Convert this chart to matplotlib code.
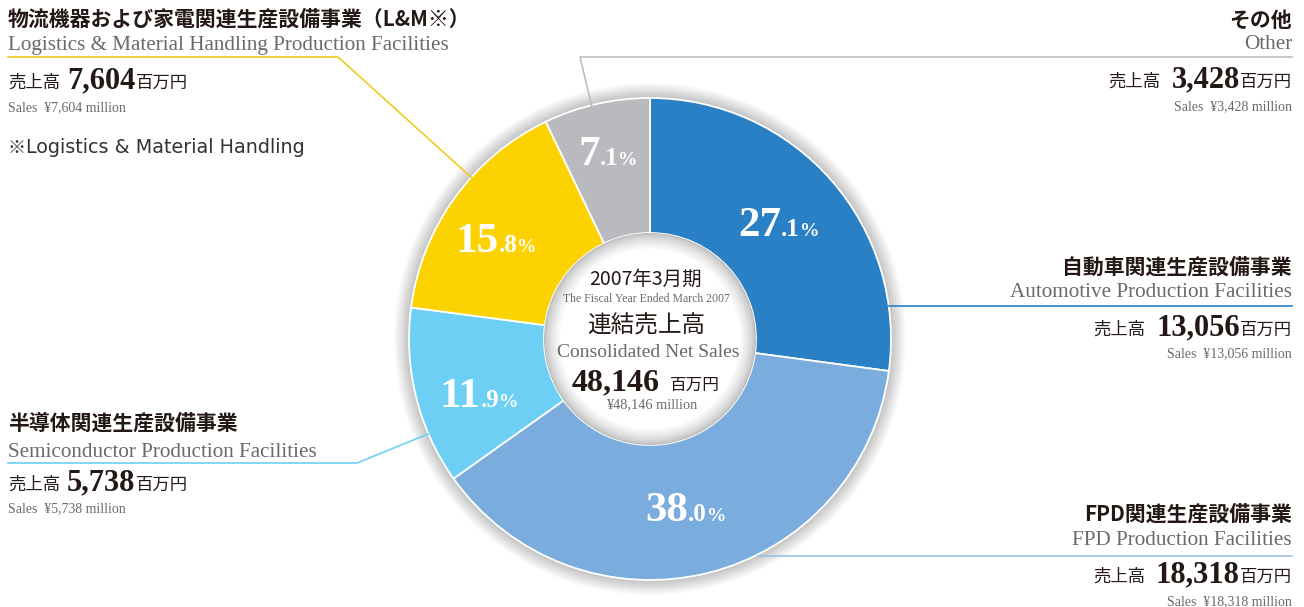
import matplotlib
matplotlib.use("Agg")
import matplotlib.pyplot as plt
from matplotlib.patches import Circle

# ---- data ----
segments_ja = ["自動車関連生産設備事業", "FPD関連生産設備事業", "半導体関連生産設備事業",
               "物流機器および家電関連生産設備事業（L&M※）", "その他"]
segments_en = ["Automotive Production Facilities", "FPD Production Facilities",
               "Semiconductor Production Facilities",
               "Logistics & Material Handling Production Facilities", "Other"]
sales = [13056, 18318, 5738, 7604, 3428]          # 百万円
shares = ["27.1", "38.0", "11.9", "15.8", "7.1"]  # %
total_sales = 48146
colors = ["#2a80c5", "#7aadde", "#6dcff3", "#fcd200", "#b9babd"]
line_colors = ["#2a80c5", "#9cc1e4", "#6dcff3", "#f0cb1e", "#bdbdbd"]

W, H = 1304, 607
CX, CY = 650, 339
R_OUT, R_IN = 241, 106

JA = ["Noto Sans CJK JP", "DejaVu Sans"]
SERIF = ["Liberation Serif", "DejaVu Serif"]
DARK = "#231815"
GRAY = "#6a6a6a"

fig = plt.figure(figsize=(W / 100, H / 100), dpi=100)
ax = fig.add_axes([0, 0, 1, 1])
renderer = fig.canvas.get_renderer()


def Y(y):
    return H - y


def put(x, y, parts, ha="left"):
    """parts: (text, kwargs) tuples or numbers as gaps; y = baseline (pixels from top)"""
    widths = []
    for p in parts:
        if isinstance(p, (int, float)):
            widths.append(p)
            continue
        t = ax.text(0, 0, p[0], **p[1])
        widths.append(t.get_window_extent(renderer).width)
        t.remove()
    tot = sum(widths)
    x0 = x - tot if ha == "right" else (x - tot / 2 if ha == "center" else x)
    for p, w in zip(parts, widths):
        if not isinstance(p, (int, float)):
            ax.text(x0, Y(y), p[0], ha="left", va="baseline", **p[1])
        x0 += w


# shadow around donut
for k in range(15, 0, -1):
    ax.add_patch(Circle((CX, Y(CY)), R_OUT + k, color="black", alpha=0.016, lw=0, zorder=1))

ax.pie(sales, radius=R_OUT, center=(CX, Y(CY)), startangle=90, counterclock=False,
       colors=colors, wedgeprops=dict(width=R_OUT - R_IN, edgecolor="white", linewidth=1.3),
       frame=True)

# centre disc with soft rim
rim = 16
for k in range(rim + 1):
    g = 0.74 + 0.26 * (k / rim) ** 0.7
    ax.add_patch(Circle((CX, Y(CY)), R_IN - k, color=(g, g, g), lw=0, zorder=3))

# percentage labels
pct_pos = [(779, 236), (686, 521), (479, 407), (496, 252), (608, 165)]
for s, (px, py) in zip(shares, pct_pos):
    a, b = s.split(".")
    put(px, py, [(a, dict(family=SERIF, weight="bold", size=31, color="white", zorder=5)),
                 ("." + b, dict(family=SERIF, weight="bold", size=18, color="white", zorder=5)),
                 ("%", dict(family=SERIF, weight="bold", size=14, color="white", zorder=5))],
        ha="center")

# leader lines (pixel positions from top)
leaders = [
    [(888, 306), (1292, 306)],
    [(758, 556), (1292, 556)],
    [(428, 434), (357, 463), (8, 463)],
    [(472, 178), (338, 57), (8, 57)],
    [(592, 107), (580, 57), (1292, 57)],
]
for pts, c in zip(leaders, line_colors):
    ax.plot([p[0] for p in pts], [Y(p[1]) for p in pts], color=c, lw=1.2, zorder=2)


def block(i, x, ys, ha):
    yt, ye, ys_, yl = ys
    put(x, yt, [(segments_ja[i], dict(family=JA, weight="bold", size=15, color=DARK))], ha=ha)
    put(x, ye, [(segments_en[i], dict(family=SERIF, size=15.2, color=GRAY))], ha=ha)
    put(x, ys_, [("売上高", dict(family=JA, size=12.5, color=DARK)), 7 if ha == "left" else 11,
                 (f"{sales[i]:,}", dict(family=SERIF, weight="bold", size=22, color=DARK)),
                 ("百万円", dict(family=JA, size=12.5, color=DARK))], ha=ha)
    put(x, yl, [(f"Sales  ¥{sales[i]:,} million", dict(family=SERIF, size=10, color=GRAY))], ha=ha)


block(3, 8, (26, 50, 88, 111), "left")
block(4, 1292, (27, 49, 87, 110), "right")
block(0, 1292, (274, 297, 335, 357), "right")
block(2, 8, (430, 457, 490, 512), "left")
block(1, 1292, (521, 545, 582, 605), "right")

put(8, 153, [("※", dict(family=JA, size=13, color="#333333")),
             ("Logistics & Material Handling", dict(family=["DejaVu Sans"], size=13.8, color="#333333"))])

# centre text
MX = 646
put(MX, 285, [("2007年3月期", dict(family=JA, size=14, color=DARK, zorder=6))], ha="center")
put(MX, 302, [("The Fiscal Year Ended March 2007", dict(family=SERIF, size=8.5, color=GRAY, zorder=6))], ha="center")
put(MX, 333, [("連結売上高", dict(family=JA, size=17, color=DARK, zorder=6))], ha="center")
put(MX + 2, 357, [("Consolidated Net Sales", dict(family=SERIF, size=14, color=GRAY, zorder=6))], ha="center")
put(MX, 390, [(f"{total_sales:,}", dict(family=SERIF, weight="bold", size=23, color=DARK, zorder=6)), 10,
              ("百万円", dict(family=JA, size=12, color=DARK, zorder=6))], ha="center")
put(MX + 6, 408, [(f"¥{total_sales:,} million", dict(family=SERIF, size=10.4, color=GRAY, zorder=6))], ha="center")

ax.set_xlim(0, W)
ax.set_ylim(0, H)
ax.set_aspect("auto")
ax.axis("off")
fig.savefig("out.png", dpi=100)
